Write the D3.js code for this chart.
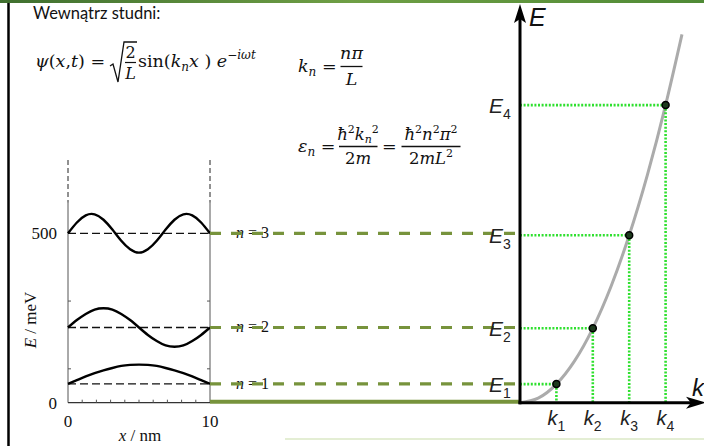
<!DOCTYPE html>
<html>
<head>
<meta charset="utf-8">
<script src="https://cdn.jsdelivr.net/npm/d3@7"></script>
<style>
  html, body { margin: 0; padding: 0; background: #ffffff; }
  svg { display: block; }
</style>
</head>
<body>
<script>
// ---------------- DATA ----------------
// Left panel: infinite well, energy levels (meV) and wavefunction offsets (meV)
const levelNumbers = [1, 2, 3];
const levelEnergies = [55.5, 222, 500];            // meV
const xNm = [0, 0.625, 1.25, 1.875, 2.5, 3.125, 3.75, 4.375, 5,
             5.625, 6.25, 6.875, 7.5, 8.125, 8.75, 9.375, 10];
const psi1 = [0, 11, 22, 32, 40, 47, 53, 56, 57, 56, 53, 47, 40, 32, 22, 11, 0];
const psi2 = [0, 22, 40, 53, 57, 53, 40, 22, 0, -22, -40, -53, -57, -53, -40, -22, 0];
const psi3 = [0, 32, 53, 56, 40, 11, -22, -47, -57, -47, -22, 11, 40, 56, 53, 32, 0];
const waveSeries = [psi1, psi2, psi3];
const xTickLabels = ["0", "10"];
const yTickLabels = ["0", "500"];
const xTickValues = [0, 10];
const yTickValues = [0, 500];
const xMinorTicks = [1, 2, 3, 4, 5, 6, 7, 8, 9];
const yMinorTicks = [100, 300, 500];

// Right panel: dispersion E = k^2 (units of E1, k1)
const kIndex = [1, 2, 3, 4];
const kValues = [1, 2, 3, 4];
const eValues = [1, 4, 9, 16];
const curveK = [0, 0.5, 1, 1.5, 2, 2.5, 3, 3.5, 4, 4.45];
const curveE = [0, 0.25, 1, 2.25, 4, 6.25, 9, 12.25, 16, 19.8];

// ---------------- SETUP ----------------
const W = 704, H = 446;
const svg = d3.select("body").append("svg").attr("width", W).attr("height", H);

// frame decorations
const band = svg.append("defs").append("linearGradient").attr("id", "band")
  .attr("x1", 0).attr("x2", 1).attr("y1", 0).attr("y2", 0);
band.append("stop").attr("offset", "0%").attr("stop-color", "#3f6f2f");
band.append("stop").attr("offset", "50%").attr("stop-color", "#6f9f45");
band.append("stop").attr("offset", "100%").attr("stop-color", "#4f8a35");
svg.append("rect").attr("x", 0).attr("y", 0).attr("width", W).attr("height", 3).attr("fill", "url(#band)");
svg.append("line").attr("x1", 8.5).attr("x2", 8.5).attr("y1", 3).attr("y2", H)
  .attr("stroke", "#000").attr("stroke-width", 2.5);
svg.append("line").attr("x1", 285).attr("x2", W).attr("y1", 439).attr("y2", 439)
  .attr("stroke", "#e4eed4").attr("stroke-width", 2);

// ---------------- TEXT / FORMULAS ----------------
const sans = "Lato, 'Open Sans', sans-serif";
const mathFont = "'DejaVu Serif', 'Liberation Serif', serif";
const MS = 17.5, SUB = 12;
svg.append("text").attr("x", 33).attr("y", 19).attr("font-family", sans)
  .attr("font-size", 16.5).attr("fill", "#111").text("Wewnątrz studni:");

function mtext(x, y, size, anchor) {
  return svg.append("text").attr("x", x).attr("y", y).attr("font-family", mathFont)
    .attr("font-size", size).attr("fill", "#111").attr("text-anchor", anchor || "start");
}
// psi formula
{
  const t = mtext(35, 67, MS);
  t.append("tspan").attr("font-style", "italic").text("ψ");
  t.append("tspan").text("(");
  t.append("tspan").attr("font-style", "italic").text("x");
  t.append("tspan").text(",");
  t.append("tspan").attr("font-style", "italic").text("t");
  t.append("tspan").text(") =");
  svg.append("path").attr("d", "M110,66 L113,64 L118,82 L124,42 L137,42")
    .attr("fill", "none").attr("stroke", "#111").attr("stroke-width", 1.3);
  mtext(130.5, 58, 16, "middle").text("2");
  svg.append("line").attr("x1", 125).attr("x2", 136).attr("y1", 62.5).attr("y2", 62.5)
    .attr("stroke", "#111").attr("stroke-width", 1.2);
  mtext(130.5, 79, 16, "middle").attr("font-style", "italic").text("L");
  const s = mtext(138, 67, MS);
  s.append("tspan").text("sin(");
  s.append("tspan").attr("font-style", "italic").text("k");
  s.append("tspan").attr("font-style", "italic").attr("font-size", SUB).attr("dy", 3.5).text("n");
  s.append("tspan").attr("font-style", "italic").attr("dy", -3.5).text("x");
  s.append("tspan").text(" ) ");
  s.append("tspan").attr("font-style", "italic").text("e");
  s.append("tspan").attr("font-size", SUB).attr("dy", -8).attr("font-style", "italic").text("−iωt");
}
// k_n formula
{
  const t = mtext(298, 72, MS);
  t.append("tspan").attr("font-style", "italic").text("k");
  t.append("tspan").attr("font-style", "italic").attr("font-size", SUB).attr("dy", 3.5).text("n");
  t.append("tspan").attr("dy", -3.5).text(" =");
  mtext(351.5, 59, MS, "middle").attr("font-style", "italic").text("nπ");
  svg.append("line").attr("x1", 340.5).attr("x2", 362.5).attr("y1", 66.5).attr("y2", 66.5)
    .attr("stroke", "#111").attr("stroke-width", 1.3);
  mtext(351.5, 85, MS, "middle").attr("font-style", "italic").text("L");
}
// epsilon formula
{
  const t = mtext(298, 152, MS);
  t.append("tspan").attr("font-style", "italic").text("ε");
  t.append("tspan").attr("font-style", "italic").attr("font-size", SUB).attr("dy", 3.5).text("n");
  t.append("tspan").attr("dy", -3.5).text(" =");
  const n1 = mtext(358, 140, 16.5, "middle");
  n1.append("tspan").attr("font-style", "italic").text("ħ");
  n1.append("tspan").attr("font-size", 11).attr("dy", -7).text("2");
  n1.append("tspan").attr("font-style", "italic").attr("dy", 7).text("k");
  n1.append("tspan").attr("font-style", "italic").attr("font-size", 11).attr("dy", 3).text("n");
  n1.append("tspan").attr("font-size", 11).attr("dy", -10).text("2");
  svg.append("line").attr("x1", 339).attr("x2", 377.5).attr("y1", 146.5).attr("y2", 146.5)
    .attr("stroke", "#111").attr("stroke-width", 1.3);
  const d1 = mtext(358, 164, 16.5, "middle");
  d1.append("tspan").text("2");
  d1.append("tspan").attr("font-style", "italic").text("m");
  mtext(382, 152, MS).text("=");
  const n2 = mtext(431, 140, 16.5, "middle");
  n2.append("tspan").attr("font-style", "italic").text("ħ");
  n2.append("tspan").attr("font-size", 11).attr("dy", -7).text("2");
  n2.append("tspan").attr("font-style", "italic").attr("dy", 7).text("n");
  n2.append("tspan").attr("font-size", 11).attr("dy", -7).text("2");
  n2.append("tspan").attr("font-style", "italic").attr("dy", 7).text("π");
  n2.append("tspan").attr("font-size", 11).attr("dy", -7).text("2");
  svg.append("line").attr("x1", 401.5).attr("x2", 460.5).attr("y1", 146.5).attr("y2", 146.5)
    .attr("stroke", "#111").attr("stroke-width", 1.3);
  const d2 = mtext(431, 164, 16.5, "middle");
  d2.append("tspan").text("2");
  d2.append("tspan").attr("font-style", "italic").text("mL");
  d2.append("tspan").attr("font-size", 11).attr("dy", -7).text("2");
}

// ---------------- LEFT PANEL ----------------
const xL = d3.scaleLinear().domain([0, 10]).range([68, 210]);
const yL = d3.scaleLinear().domain([0, 500]).range([402.7, 233.3]);
const serif = "'Liberation Serif', 'DejaVu Serif', serif";
const left = svg.append("g");
const boxTop = yL(590);

// dashed vertical extensions
[0, 10].forEach(v => {
  left.append("line").attr("x1", xL(v)).attr("x2", xL(v)).attr("y1", 160).attr("y2", boxTop)
    .attr("stroke", "#222").attr("stroke-width", 1).attr("stroke-dasharray", "5,3");
  left.append("line").attr("x1", xL(v)).attr("x2", xL(v)).attr("y1", boxTop).attr("y2", yL(0))
    .attr("stroke", "#555").attr("stroke-width", 1);
});
left.append("line").attr("x1", xL(0)).attr("x2", xL(10)).attr("y1", yL(0)).attr("y2", yL(0))
  .attr("stroke", "#333").attr("stroke-width", 1.2);
xMinorTicks.forEach(v => left.append("line").attr("x1", xL(v)).attr("x2", xL(v))
  .attr("y1", yL(0)).attr("y2", yL(0) - 3).attr("stroke", "#555").attr("stroke-width", 1));
yMinorTicks.forEach(v => [0, 10].forEach((xv, i) => left.append("line")
  .attr("x1", xL(xv)).attr("x2", xL(xv) + (i ? -3 : 3)).attr("y1", yL(v)).attr("y2", yL(v))
  .attr("stroke", "#555").attr("stroke-width", 1)));

yTickValues.forEach((v, i) => left.append("text").attr("x", 57).attr("y", yL(v) + 6)
  .attr("text-anchor", "end").attr("font-family", serif).attr("font-size", 17)
  .attr("fill", "#111").text(yTickLabels[i]));
xTickValues.forEach((v, i) => left.append("text").attr("x", xL(v)).attr("y", 427)
  .attr("text-anchor", "middle").attr("font-family", serif).attr("font-size", 17)
  .attr("fill", "#111").text(xTickLabels[i]));
{
  const t = left.append("text").attr("x", 140).attr("y", 441).attr("text-anchor", "middle")
    .attr("font-family", serif).attr("font-size", 17).attr("fill", "#111");
  t.append("tspan").attr("font-style", "italic").text("x");
  t.append("tspan").text(" / nm");
  const e = left.append("text").attr("transform", "translate(36,320) rotate(-90)")
    .attr("text-anchor", "middle").attr("font-family", serif).attr("font-size", 17).attr("fill", "#111");
  e.append("tspan").attr("font-style", "italic").text("E");
  e.append("tspan").text(" / meV");
}

// level dashed lines and wavefunctions
const line = d3.line().curve(d3.curveNatural);
levelEnergies.forEach((E, i) => {
  left.append("line").attr("x1", xL(0)).attr("x2", xL(10)).attr("y1", yL(E)).attr("y2", yL(E))
    .attr("stroke", "#111").attr("stroke-width", 1.3).attr("stroke-dasharray", "8,4");
  left.append("path")
    .attr("d", line(xNm.map((x, j) => [xL(x), yL(E + waveSeries[i][j])])))
    .attr("fill", "none").attr("stroke", "#000").attr("stroke-width", 2.4);
  const t = left.append("text").attr("x", 236).attr("y", yL(E) + 5)
    .attr("font-family", serif).attr("font-size", 16).attr("fill", "#111");
  t.append("tspan").attr("font-style", "italic").text("n");
  t.append("tspan").text(" = " + levelNumbers[i]);
});

// green connecting lines
const olive = "#77933c";
levelEnergies.forEach(E => {
  svg.append("line").attr("x1", xL(10)).attr("x2", 518).attr("y1", yL(E)).attr("y2", yL(E))
    .attr("stroke", olive).attr("stroke-width", 3.2).attr("stroke-dasharray", "11,10");
});
svg.append("line").attr("x1", xL(10)).attr("x2", 521).attr("y1", yL(0) - 1).attr("y2", yL(0) - 1)
  .attr("stroke", olive).attr("stroke-width", 4);

// ---------------- RIGHT PANEL ----------------
const xK = d3.scaleLinear().domain([0, 5]).range([520, 702]);
const yE = d3.scaleLinear().domain([0, 20]).range([402.7, 30.7]);
const right = svg.append("g");
const green = "#2fe02f";

right.append("path")
  .attr("d", d3.line().curve(d3.curveNatural)(curveK.map((k, i) => [xK(k), yE(curveE[i])])))
  .attr("fill", "none").attr("stroke", "#ababab").attr("stroke-width", 3);

kValues.forEach((k, i) => {
  right.append("line").attr("x1", xK(0)).attr("x2", xK(k)).attr("y1", yE(eValues[i])).attr("y2", yE(eValues[i]))
    .attr("stroke", green).attr("stroke-width", 2.6).attr("stroke-dasharray", "2,1.6");
  right.append("line").attr("x1", xK(k)).attr("x2", xK(k)).attr("y1", yE(eValues[i])).attr("y2", yE(0))
    .attr("stroke", green).attr("stroke-width", 2.6).attr("stroke-dasharray", "2,1.6");
});

// axes
right.append("line").attr("x1", xK(0)).attr("x2", xK(0)).attr("y1", yE(0) + 1.5).attr("y2", 18)
  .attr("stroke", "#000").attr("stroke-width", 3);
right.append("path").attr("d", `M${xK(0)},4 L${xK(0) + 6},23 L${xK(0)},19 L${xK(0) - 6},23 Z`).attr("fill", "#000");
right.append("line").attr("x1", xK(0) - 1.5).attr("x2", 692).attr("y1", yE(0)).attr("y2", yE(0))
  .attr("stroke", "#000").attr("stroke-width", 3);
right.append("path").attr("d", `M706,${yE(0)} L686,${yE(0) - 6} L691,${yE(0)} L686,${yE(0) + 6} Z`).attr("fill", "#000");

// dots
kValues.forEach((k, i) => {
  right.append("circle").attr("cx", xK(k)).attr("cy", yE(eValues[i])).attr("r", 3.5)
    .attr("fill", "#1d3a1d").attr("stroke", "#000").attr("stroke-width", 1.5);
});

// labels
const lab = "'Liberation Sans', Arial, sans-serif";
right.append("text").attr("x", 529).attr("y", 26).attr("font-family", lab).attr("font-size", 25)
  .attr("font-style", "italic").attr("fill", "#111").text("E");
right.append("text").attr("x", 692).attr("y", 396).attr("font-family", lab).attr("font-size", 24)
  .attr("font-style", "italic").attr("fill", "#111").text("k");
kIndex.forEach((n, i) => {
  const t = right.append("text").attr("x", xK(kValues[i]) - 9).attr("y", 425)
    .attr("font-family", lab).attr("font-size", 20).attr("fill", "#222");
  t.append("tspan").attr("font-style", "italic").text("k");
  t.append("tspan").attr("font-size", 14).attr("dy", 6).text(n);
  const e = right.append("text").attr("x", 489).attr("y", yE(eValues[i]) + 8)
    .attr("font-family", lab).attr("font-size", 21).attr("fill", "#222");
  e.append("tspan").attr("font-style", "italic").text("E");
  e.append("tspan").attr("font-size", 14).attr("dy", 6).text(n);
});
</script>
</body>
</html>
